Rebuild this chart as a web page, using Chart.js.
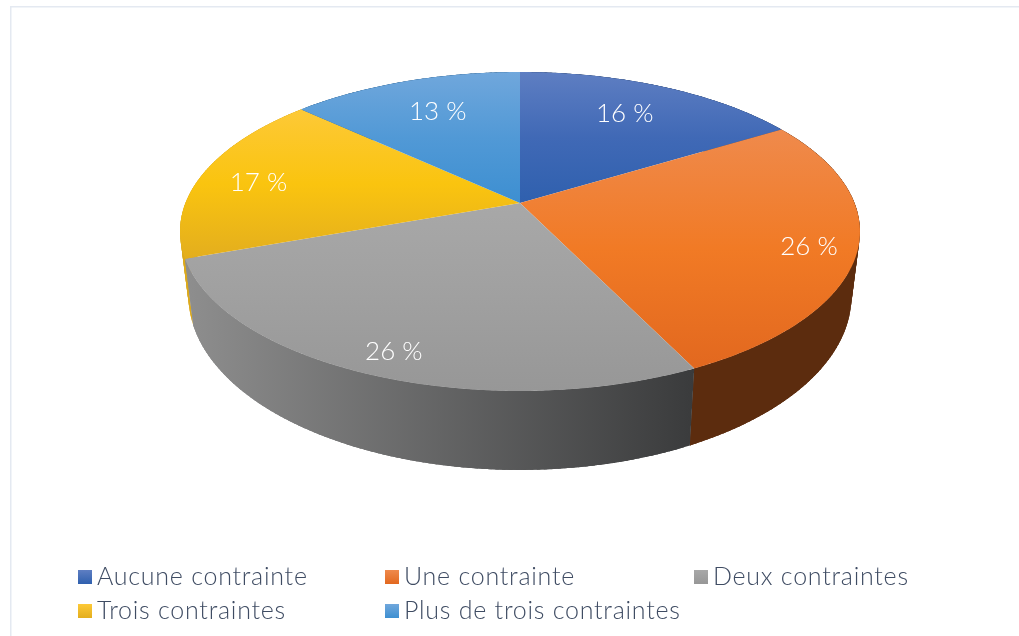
<!DOCTYPE html>
<html><head><meta charset="utf-8">
<style>html,body{margin:0;padding:0;background:#fff}#w{position:relative;width:1019px;height:636px}canvas{display:block}</style>
<script src="https://cdn.jsdelivr.net/npm/chart.js@4"></script></head>
<body><div id="w"><canvas id="c" width="1019" height="636"></canvas></div>
<script>
const categories = ['Aucune contrainte','Une contrainte','Deux contraintes','Trois contraintes','Plus de trois contraintes'];
const shares = [16.3,26.5,26.7,17.4,13.1];
const valueLabels = ['16 %','26 %','26 %','17 %','13 %'];
const baseColors = ['#3f68b2','#f07a26','#a0a0a0','#fac40f','#4f96d4'];
const topGradients = [['#5e7ec2','#4069b6','#2f60ae'],['#ef8a4c','#f17a25','#e2681f'],['#a8a8a8','#a0a0a0','#979797'],['#fdc937','#fac40f','#e3ae1e'],['#70a7dc','#5199d6','#3d8fd1']];
const wallColors = [['#2a4470','#2a4470'],['#5c2c0e','#5c2c0e'],['#8e8e8e','#3a3b3c'],['#dca91b','#dca91b'],['#2c5f8c','#2c5f8c']];
const labelRadii = [0.74,0.867,0.876,0.815,0.73];
const labelNudges = [[-4,0],[-2,4],[3,2],[-2,4],[5,1]];
const FONT = 'Lato';
const TEXT = '#3f4c63';

// view of the pie's flat disc
const V = {cx:520, cy:203, a:334.5, b:118.1, p:-0.1787};
function project(theta, r){
  const x = r*Math.cos(theta), y = r*Math.sin(theta), w = 1+V.p*y;
  return [V.cx + V.a*x/w, (V.b*y+V.cy)/w];
}
function lower(pt){ return [V.cx + 0.975*(pt[0]-V.cx), pt[1]+67+0.09*(pt[1]-258)]; }

const pie3d = {
  id:'pie3d',
  beforeDatasetsDraw(chart){
    const ctx = chart.ctx, arcs = chart.getDatasetMeta(0).data, STEP = Math.PI/180;
    // frame
    ctx.save();
    ctx.fillStyle='#e4e9f1';
    ctx.fillRect(10,6,1009,1.5); ctx.fillRect(10,6,1.5,630);
    // wall
    const quads=[];
    arcs.forEach((arc,i)=>{
      for(let t=arc.startAngle;t<arc.endAngle;t+=STEP){
        const e=Math.min(t+2.5*STEP,arc.endAngle), a=project(t,1), b=project(e,1);
        quads.push({i,a,b,y:(a[1]+b[1])/2});
      }
    });
    quads.sort((m,n)=>m.y-n.y);
    quads.forEach(q=>{
      const la=lower(q.a), lb=lower(q.b), g=ctx.createLinearGradient(186,0,694,0);
      g.addColorStop(0,wallColors[q.i][0]); g.addColorStop(1,wallColors[q.i][1]);
      ctx.fillStyle=g;
      ctx.beginPath(); ctx.moveTo(...q.a); ctx.lineTo(...q.b); ctx.lineTo(...lb); ctx.lineTo(...la); ctx.closePath();
      ctx.fill();
    });
    // top faces
    arcs.forEach((arc,i)=>{
      const pts=[]; for(let t=arc.startAngle;t<arc.endAngle;t+=STEP/2) pts.push(project(t,1));
      pts.push(project(arc.endAngle,1));
      const ys=pts.map(p=>p[1]).concat(V.cy), g=ctx.createLinearGradient(0,Math.min(...ys),0,Math.max(...ys));
      g.addColorStop(0,topGradients[i][0]); g.addColorStop(0.5,topGradients[i][1]); g.addColorStop(1,topGradients[i][2]);
      ctx.fillStyle=g;
      ctx.beginPath(); ctx.moveTo(V.cx,V.cy); pts.forEach(p=>ctx.lineTo(...p)); ctx.closePath(); ctx.fill();
    });
    // value labels
    ctx.fillStyle='#fff'; ctx.font='300 26px '+FONT; ctx.textAlign='center'; ctx.textBaseline='middle';
    arcs.forEach((arc,i)=>{
      const p=project((arc.startAngle+arc.endAngle)/2,labelRadii[i]);
      ctx.fillText(valueLabels[i],p[0]+labelNudges[i][0],p[1]+labelNudges[i][1]);
    });
    // legend
    const cols=[78,385,694], rows=[570,604];
    ctx.textAlign='left'; ctx.textBaseline='alphabetic'; ctx.font='300 25px '+FONT; ctx.letterSpacing='0.75px';
    categories.forEach((name,i)=>{
      const x=cols[i%3], y=rows[Math.floor(i/3)], g=ctx.createLinearGradient(0,y,0,y+14);
      g.addColorStop(0,topGradients[i][0]); g.addColorStop(1,topGradients[i][2]);
      ctx.fillStyle=g; ctx.fillRect(x,y,14,14);
      ctx.fillStyle=TEXT; ctx.fillText(name,x+19,y+15);
    });
    ctx.restore();
    return false;
  }
};

new Chart(document.getElementById('c'),{
  type:'pie',
  data:{labels:categories,datasets:[{data:shares,backgroundColor:baseColors,borderWidth:0}]},
  options:{responsive:false,animation:false,
    plugins:{legend:{display:false},tooltip:{enabled:false},title:{display:false}}},
  plugins:[pie3d]
});
</script></body></html>
